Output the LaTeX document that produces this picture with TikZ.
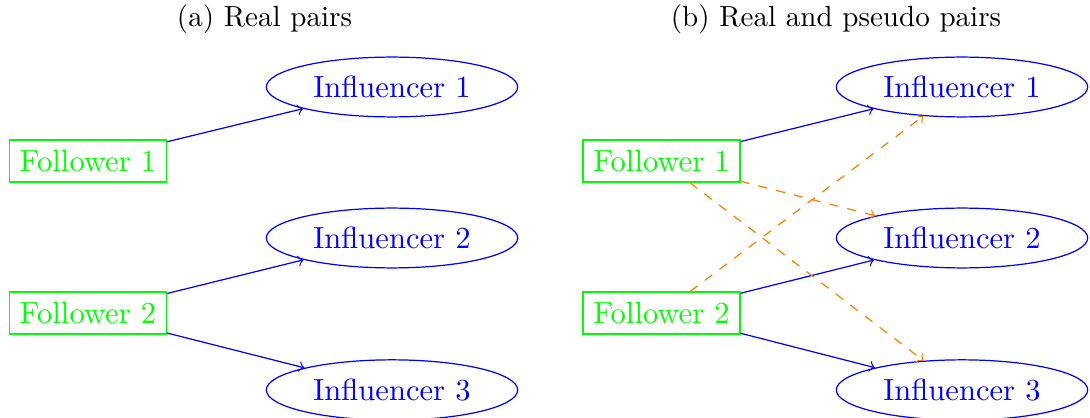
\documentclass[tikz,border=0pt]{standalone}
\usetikzlibrary{shapes.geometric}
\begin{document}
\begin{tikzpicture}[x=0.3268pt,y=-0.3268pt,
  fol/.style={draw=green,text=green,rectangle,font=\fontsize{10}{12}\selectfont},
  inf/.style={draw=blue,text=blue,ellipse,font=\fontsize{10}{12}\selectfont},
  real/.style={->,blue},
  pseudo/.style={->,orange,dashed},
  ttl/.style={font=\fontsize{9.5}{11.5}\selectfont}]
\useasboundingbox (0,0) rectangle (1090,418);
\node[ttl] (ta) at (264.5,19) {(a) Real pairs};
\node[ttl] (tb) at (836,19) {(b) Real and pseudo pairs};
% left panel
\node[fol] (af1) at (88,161) {Follower 1};
\node[fol] (af2) at (88,313) {Follower 2};
\node[inf] (ai1) at (392,87) {Influencer 1};
\node[inf] (ai2) at (392,238) {Influencer 2};
\node[inf] (ai3) at (392,390) {Influencer 3};
\draw[real] (af1) -- (ai1);
\draw[real] (af2) -- (ai2);
\draw[real] (af2) -- (ai3);
% right panel
\node[fol] (bf1) at (661.5,161) {Follower 1};
\node[fol] (bf2) at (661.5,313) {Follower 2};
\node[inf] (bi1) at (962,87) {Influencer 1};
\node[inf] (bi2) at (962,238) {Influencer 2};
\node[inf] (bi3) at (962,390) {Influencer 3};
\draw[real] (bf1) -- (bi1);
\draw[real] (bf2) -- (bi2);
\draw[real] (bf2) -- (bi3);
\draw[pseudo] (bf1) -- (bi2);
\draw[pseudo] (bf1) -- (bi3);
\draw[pseudo] (bf2) -- (bi1);
\end{tikzpicture}
\end{document}
